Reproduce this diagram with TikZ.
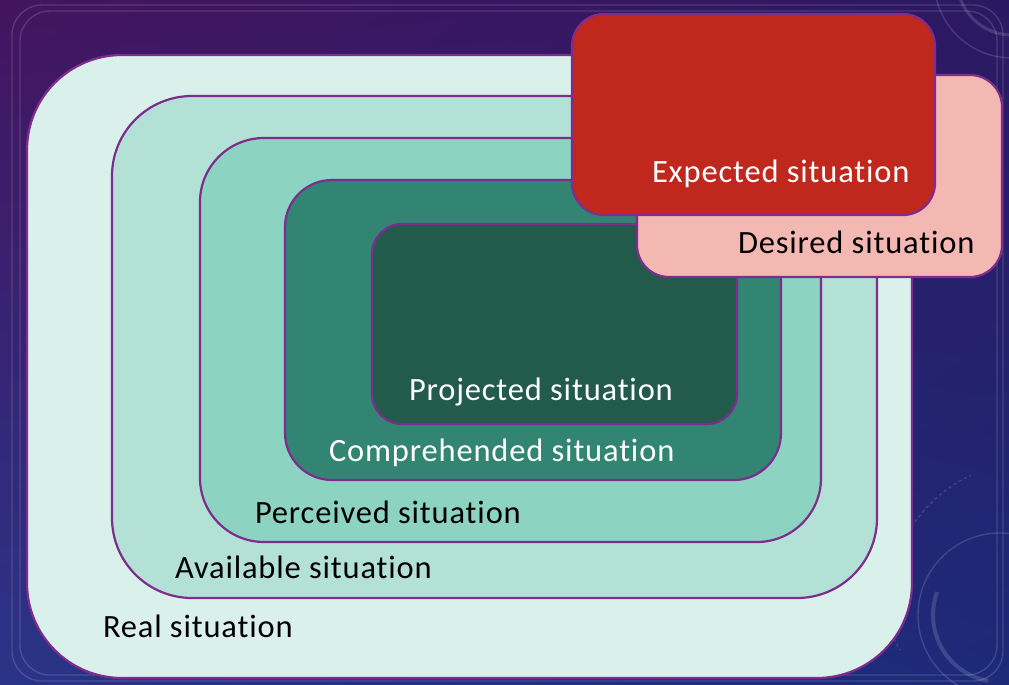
\documentclass[tikz,border=0pt]{standalone}
\usepackage{fontspec}
\setmainfont{Carlito}[LetterSpace=2.6,Ligatures=NoCommon]
\usetikzlibrary{shadings}
\begin{document}
\begin{tikzpicture}[x=1pt,y=-1pt,
  every node/.style={inner sep=0pt,outer sep=0pt},
  zone/.style={draw=zoneline,line width=2.2pt,anchor=north west},
  tag/.style={anchor=base west,font=\fontsize{32.5}{38}\selectfont},
  deco/.style={draw=white,draw opacity=0.14,line width=1.4pt}]
\definecolor{zoneline}{HTML}{7E2D8E}
\definecolor{cReal}{HTML}{DAF0EA}
\definecolor{cAvail}{HTML}{B3E1D6}
\definecolor{cPerc}{HTML}{8CD3C1}
\definecolor{cComp}{HTML}{338573}
\definecolor{cProj}{HTML}{225A4C}
\definecolor{cExp}{HTML}{C0281E}
\definecolor{cDes}{HTML}{F3B8B2}
\definecolor{bgUL}{HTML}{44145F}
\definecolor{bgUR}{HTML}{2C1862}
\definecolor{bgLL}{HTML}{2A3488}
\definecolor{bgLR}{HTML}{1C2A78}

% backdrop
\useasboundingbox (0,0) rectangle (1009,685);
\shade[upper left=bgUL,upper right=bgUR,lower left=bgLL,lower right=bgLR]
  (0,0) rectangle (1009,685);

% faint ornaments on the backdrop
\draw[deco,rounded corners=30pt] (12,5) rectangle (1003,681);
\draw[deco,rounded corners=30pt] (20,11) rectangle (997,675);
\draw[deco] (1012,-20) circle[radius=78];
\draw[deco,line width=3pt] (1012,-20) circle[radius=55];
\draw[deco] (1000,615) circle[radius=82];
\draw[deco,line width=4pt] (1000,615) ++(100:67) arc[start angle=100,end angle=200,radius=67];
\draw[deco,dashed] (915,522) arc[start angle=215,end angle=245,radius=140];
\draw[deco,dashed] (888,628) -- (900,650);

% nested situations
\node[zone,fill=cReal,rounded corners=95pt,minimum width=885pt,minimum height=623pt] (real) at (27,55) {};
\node[zone,fill=cAvail,rounded corners=80pt,minimum width=765pt,minimum height=502pt] (avail) at (112,96) {};
\node[zone,fill=cPerc,rounded corners=64pt,minimum width=621pt,minimum height=404pt] (perc) at (200,138) {};
\node[zone,fill=cComp,rounded corners=47pt,minimum width=496pt,minimum height=300pt] (comp) at (285,180) {};
\node[zone,fill=cProj,rounded corners=30pt,minimum width=365pt,minimum height=200pt] (proj) at (372,224) {};

% desired and expected
\node[zone,fill=cDes,rounded corners=32pt,minimum width=365pt,minimum height=202pt] (des) at (637,75) {};
\node[zone,fill=cExp,rounded corners=32pt,minimum width=363pt,minimum height=201pt] (exp) at (572,14) {};

% labels
\node[tag,text=black] (lreal) at (103,637) {Real situation};
\node[tag,text=black] (lavail) at (175,578) {Available situation};
\node[tag,text=black] (lperc) at (255,523) {Perceived situation};
\node[tag,text=white] (lcomp) at (329,461) {Comprehended situation};
\node[tag,text=white] (lproj) at (409,400) {Projected situation};
\node[tag,text=black] (ldes) at (738,253) {Desired situation};
\node[tag,text=white] (lexp) at (652,182) {Expected situation};
\end{tikzpicture}
\end{document}
